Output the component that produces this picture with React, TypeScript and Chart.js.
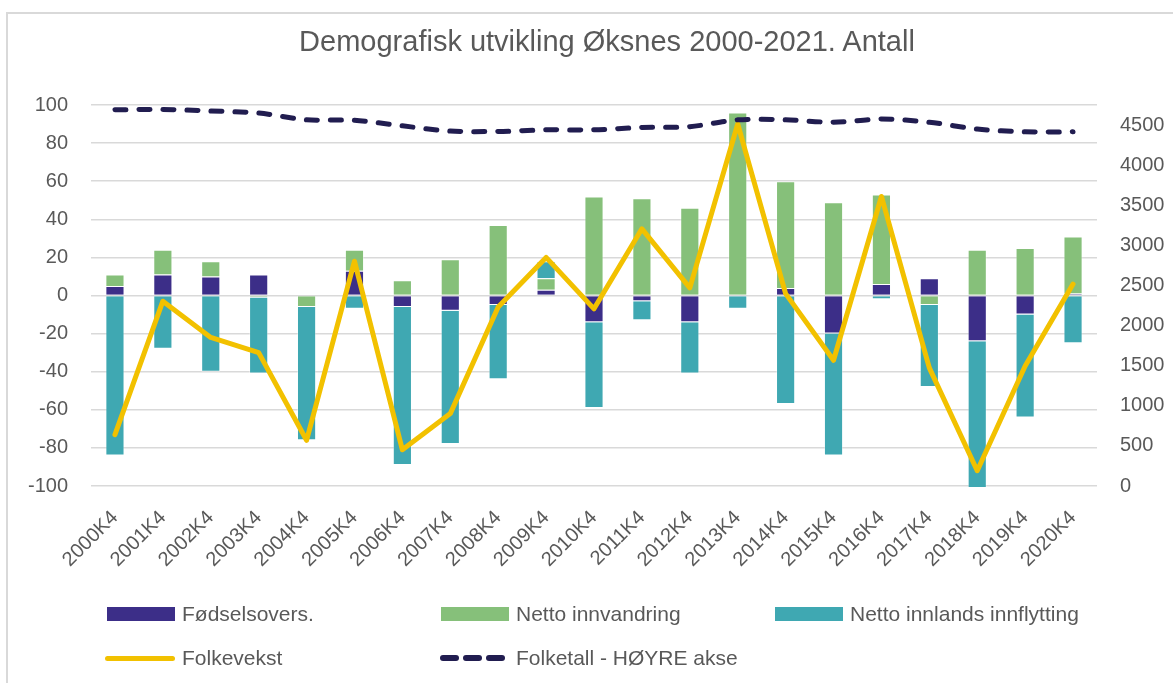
import React, { useEffect, useRef } from "react";
import { Chart, registerables } from "chart.js";

Chart.register(...registerables);

const categories = [
  "2000K4", "2001K4", "2002K4", "2003K4", "2004K4", "2005K4", "2006K4",
  "2007K4", "2008K4", "2009K4", "2010K4", "2011K4", "2012K4", "2013K4",
  "2014K4", "2015K4", "2016K4", "2017K4", "2018K4", "2019K4", "2020K4",
];

const fodselsoverskudd = [5, 11, 10, 11, 0, 13, -6, -8, -5, 3, -14, -3, -14, 0, 4, -20, 6, 9, -24, -10, 1];
const nettoInnvandring = [6, 13, 8, -1, -6, 11, 8, 19, 37, 6, 52, 51, 46, 96, 56, 49, 47, -5, 24, 25, 30];
const nettoInnlands = [-84, -28, -40, -40, -70, -7, -83, -70, -39, 9, -45, -10, -27, -7, -57, -64, -2, -43, -77, -54, -25];
const folkevekst = [-73, -3, -22, -30, -76, 18, -81, -62, -6, 20, -7, 35, 4, 90, 1, -34, 52, -38, -92, -37, 6];
const folketall = [4690, 4695, 4675, 4650, 4565, 4560, 4490, 4425, 4420, 4440, 4440, 4470, 4480, 4565, 4565, 4535, 4575, 4535, 4450, 4415, 4415];

const leftMin = -100;
const leftMax = 100;
const leftStep = 20;
const rightTicks = [0, 500, 1000, 1500, 2000, 2500, 3000, 3500, 4000, 4500];
const rightMax = 4750;

const TITLE = "Demografisk utvikling Øksnes 2000-2021. Antall";
const FONT = "'Liberation Sans', Arial, sans-serif";
const TEXT = "#595959";
const PURPLE = "#3c2e88";
const GREEN = "#86c07a";
const TEAL = "#3fa8b2";
const YELLOW = "#f2c100";
const NAVY = "#211d50";
const GRID = "#d9d9d9";

const W = 1173;
const H = 683;

export default function App() {
  const ref = useRef<HTMLCanvasElement | null>(null);

  useEffect(() => {
    if (!ref.current) return;
    const tickFont = { family: FONT, size: 20 };
    const barCommon = {
      type: "bar" as const,
      stack: "bars",
      order: 2,
      yAxisID: "y",
      categoryPercentage: 1,
      barPercentage: 0.4,
      borderWidth: 1,
      borderColor: "rgba(255,255,255,0.35)",
      clip: false as any,
    };
    const chart = new Chart(ref.current, {
      type: "bar",
      data: {
        labels: categories,
        datasets: [
          {
            type: "line",
            label: "Folketall - HØYRE akse",
            data: folketall,
            yAxisID: "y1",
            stack: "folketall",
            order: 0,
            borderColor: NAVY,
            borderWidth: 5,
            borderDash: [11, 13],
            borderCapStyle: "round",
            pointRadius: 0,
            tension: 0.3,
            fill: false,
          } as any,
          {
            type: "line",
            label: "Folkevekst",
            data: folkevekst,
            yAxisID: "y",
            stack: "folkevekst",
            order: 1,
            borderColor: YELLOW,
            borderWidth: 5,
            borderJoinStyle: "round",
            borderCapStyle: "round",
            pointRadius: 0,
            tension: 0,
            fill: false,
          } as any,
          { ...barCommon, label: "Fødselsovers.", data: fodselsoverskudd, backgroundColor: PURPLE } as any,
          { ...barCommon, label: "Netto innvandring", data: nettoInnvandring, backgroundColor: GREEN } as any,
          { ...barCommon, label: "Netto innlands innflytting", data: nettoInnlands, backgroundColor: TEAL } as any,
        ],
      },
      options: {
        responsive: false,
        animation: false,
        devicePixelRatio: 1,
        layout: { padding: { left: 0, right: 0, top: 105, bottom: 0 } },
        plugins: {
          legend: { display: false },
          title: { display: false },
          tooltip: { enabled: false },
        },
        scales: {
          x: {
            stacked: true,
            offset: true,
            grid: { display: false, drawTicks: false },
            border: { display: false },
            ticks: {
              autoSkip: false,
              maxRotation: 45,
              minRotation: 45,
              padding: 20,
              color: TEXT,
              font: tickFont,
            },
            afterFit: (s: any) => {
              s.height = H - 486;
            },
          },
          y: {
            position: "left",
            stacked: true,
            min: leftMin,
            max: leftMax,
            ticks: { stepSize: leftStep, padding: 23, color: TEXT, font: tickFont },
            grid: { color: GRID, lineWidth: 1.5, drawTicks: false },
            border: { display: false },
            afterFit: (s: any) => {
              s.width = 91;
            },
          },
          y1: {
            position: "right",
            min: 0,
            max: rightMax,
            grid: { display: false, drawTicks: false },
            border: { display: false },
            ticks: {
              padding: 23,
              color: TEXT,
              font: tickFont,
              callback: (v: any) => String(v),
            },
            afterBuildTicks: (s: any) => {
              s.ticks = rightTicks.map((v) => ({ value: v }));
            },
            afterFit: (s: any) => {
              s.width = W - 1097;
            },
          },
        },
      } as any,
    });
    return () => chart.destroy();
  }, []);

  const legendText: React.CSSProperties = {
    position: "absolute",
    height: 22,
    lineHeight: "22px",
    fontSize: 21,
    fontFamily: FONT,
    color: TEXT,
    whiteSpace: "nowrap",
  };

  const boxItems = [
    { label: "Fødselsovers.", color: PURPLE, x: 107 },
    { label: "Netto innvandring", color: GREEN, x: 441 },
    { label: "Netto innlands innflytting", color: TEAL, x: 775 },
  ];

  return (
    <div style={{ position: "absolute", left: 0, top: 0, width: W, height: H, overflow: "hidden", background: "#fff" }}>
      <div
        style={{
          position: "absolute",
          left: 6,
          top: 12,
          width: W,
          height: H,
          borderLeft: `2px solid ${GRID}`,
          borderTop: `2px solid ${GRID}`,
        }}
      />
      <canvas ref={ref} width={W} height={H} style={{ position: "absolute", left: 0, top: 0, width: W, height: H }} />
      <div
        style={{
          position: "absolute",
          left: 0,
          top: 24,
          width: 1214,
          textAlign: "center",
          fontFamily: FONT,
          fontSize: 29,
          lineHeight: "34px",
          color: TEXT,
          whiteSpace: "nowrap",
        }}
      >
        {TITLE}
      </div>
      {boxItems.map((it) => (
        <React.Fragment key={it.label}>
          <div style={{ position: "absolute", left: it.x, top: 607, width: 68, height: 14, background: it.color }} />
          <div style={{ ...legendText, left: it.x + 75, top: 603 }}>{it.label}</div>
        </React.Fragment>
      ))}
      <div style={{ position: "absolute", left: 105, top: 656, width: 70, height: 5, borderRadius: 3, background: YELLOW }} />
      <div style={{ ...legendText, left: 182, top: 647 }}>Folkevekst</div>
      {[440, 463, 486].map((x) => (
        <div key={x} style={{ position: "absolute", left: x, top: 655, width: 19, height: 6, borderRadius: 3, background: NAVY }} />
      ))}
      <div style={{ ...legendText, left: 516, top: 647 }}>Folketall - HØYRE akse</div>
    </div>
  );
}
